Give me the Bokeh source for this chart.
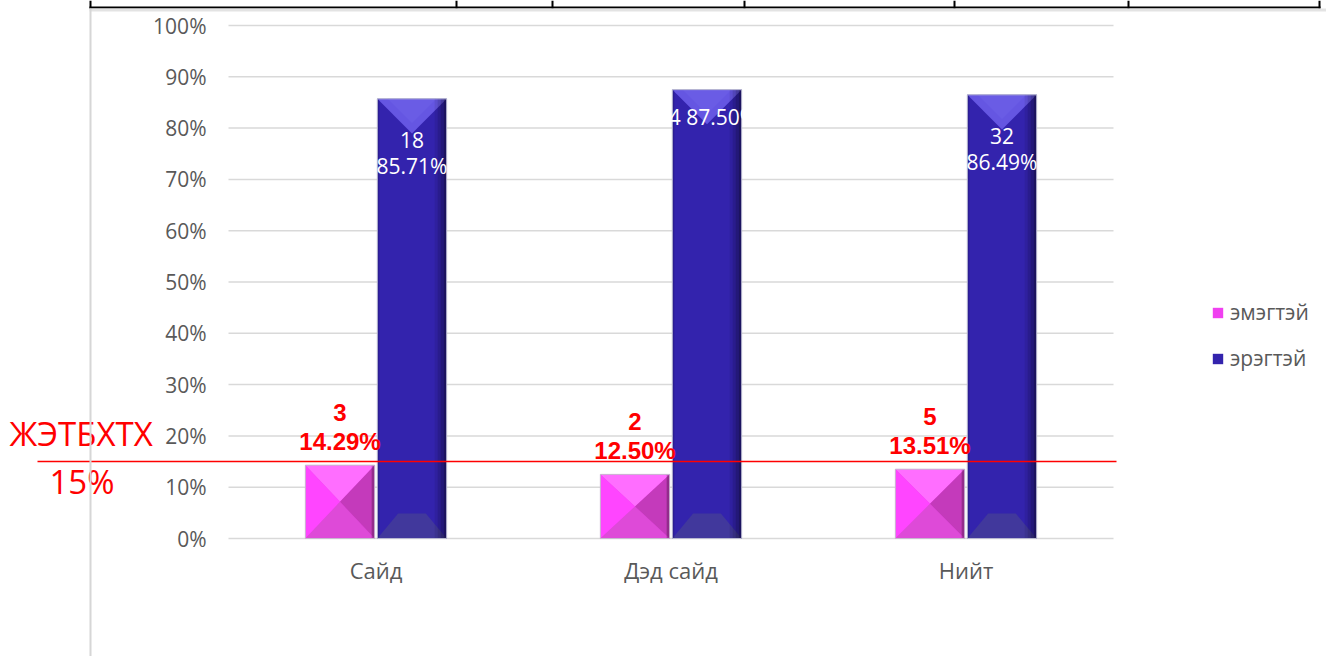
from bokeh.plotting import figure
from bokeh.models import (FixedTicker, BoxAnnotation, Label, Legend, LegendItem, Range1d)
from bokeh.core.properties import value
from bokeh.embed import file_html
from bokeh.resources import INLINE

# ---------------- data ----------------
CATEGORIES = ["Сайд", "Дэд сайд", "Нийт"]
SERIES_NAMES = ["эмэгтэй", "эрэгтэй"]
FEMALE_COUNT = [3, 2, 5]
FEMALE_PCT = [14.29, 12.50, 13.51]
MALE_COUNT = [18, 14, 32]
MALE_PCT = [85.71, 87.50, 86.49]
MALE_LABEL_TWO_LINES = [True, False, True]
Y_TICKS = [0, 10, 20, 30, 40, 50, 60, 70, 80, 90, 100]
THRESHOLD = 15
THRESHOLD_NAME = "ЖЭТБХТХ"
THRESHOLD_TEXT = "15%"

# ---------------- geometry / style ----------------
W, H = 1326, 656
FONT = "Open Sans"
GREY_TXT = "#595959"
BAR_W = 0.235
BAR_OFF = 0.122
X0_PAGE, Y0_PAGE = 228, 538     # page position of data (0, 0)
PX_X = 295.0                    # pixels per category unit
PX_Y = 5.13                     # pixels per percent

def xu(page_x):
    return (page_x - X0_PAGE) / PX_X

def yu(page_y):
    return (Y0_PAGE - page_y) / PX_Y

PINK = "#f040f0"
BLUE = "#3323ad"

p = figure(width=W, height=H, x_range=Range1d(xu(0), xu(W)), y_range=Range1d(yu(H), yu(0)),
           output_backend="svg", toolbar_location=None,
           min_border_left=0, min_border_right=0, min_border_top=0, min_border_bottom=0)
p.outline_line_color = None
p.background_fill_color = "white"
p.border_fill_color = "white"
p.xgrid.visible = False
p.ygrid.visible = False

# gridlines limited to the plot area (0 .. number of categories)
n = len(CATEGORIES)
p.segment(x0=[0] * len(Y_TICKS), x1=[n] * len(Y_TICKS), y0=Y_TICKS, y1=Y_TICKS,
          line_color="#d9d9d9", line_width=1.5)

p.yaxis.ticker = FixedTicker(ticks=Y_TICKS)
p.yaxis.major_label_overrides = {t: f"{t}%" for t in Y_TICKS}
p.xaxis.ticker = FixedTicker(ticks=[i + 0.5 for i in range(n)])
p.xaxis.major_label_overrides = {i + 0.5: c for i, c in enumerate(CATEGORIES)}
p.yaxis.fixed_location = 0
p.xaxis.fixed_location = 0
for ax in (p.xaxis, p.yaxis):
    ax.axis_line_color = None
    ax.major_tick_line_color = None
    ax.minor_tick_line_color = None
    ax.major_tick_out = 0
    ax.major_tick_in = 0
    ax.major_label_text_font = FONT
    ax.major_label_text_color = GREY_TXT
p.yaxis.major_label_text_font_size = "21px"
p.xaxis.major_label_text_font_size = "22px"
p.yaxis.major_label_standoff = 22
p.xaxis.major_label_standoff = 16

cx = [i + 0.5 for i in range(n)]
fx = [c - BAR_OFF for c in cx]
mx = [c + BAR_OFF for c in cx]
hw = BAR_W / 2

# ---------------- base bars ----------------
r_f = p.vbar(x=fx, top=FEMALE_PCT, width=BAR_W, fill_color=PINK, line_color=None)
r_m = p.vbar(x=mx, top=MALE_PCT, width=BAR_W, fill_color=BLUE, line_color=None)

# ---------------- bevel facets (computed from the bar values) ----------------
xs, ys, cols, alphas = [], [], [], []
def add(px, py, c, a=1.0):
    xs.append(px); ys.append(py); cols.append(c); alphas.append(a)

for x0, v in zip(fx, FEMALE_PCT):
    xl, xr, ym = x0 - hw, x0 + hw, v / 2
    add([xl, xr, x0], [v, v, ym], "#ff6eff")
    add([xl, xl, x0], [0, v, ym], "#ff45ff")
    add([xl, xr, x0], [0, 0, ym], "#de4ad8")
    add([xr, xr, x0], [0, v, ym], "#c43abb")
    add([xr - 3 / PX_X, xr, xr, xr - 3 / PX_X], [0, 0, v, v], "black", 0.25)

depth = (BAR_W * PX_X / 2) / PX_Y
for x0, v in zip(mx, MALE_PCT):
    xl, xr = x0 - hw, x0 + hw
    add([xl, xr, x0], [v, v, v - depth], "#6556e2")
    add([xl + 0.15 * BAR_W, xr - 0.15 * BAR_W, x0], [v, v, v - 0.7 * depth], "#6e60e8", 0.6)
    inset = 0.3 * BAR_W
    add([xl, xr, xr - inset, xl + inset], [0, 0, 25 / PX_Y, 25 / PX_Y], "#41389c")
    add([xl, xl + 2 / PX_X, xl + 2 / PX_X, xl], [0, 0, v, v], "black", 0.15)
    for k, a in enumerate([0.08, 0.18, 0.3, 0.45]):
        a0 = xr - (12 - 3 * k) / PX_X
        a1 = xr - (9 - 3 * k) / PX_X
        add([a0, a1, a1, a0], [0, 0, v, v], "black", a)

p.patches(xs=xs, ys=ys, fill_color=cols, fill_alpha=alphas, line_color=None)

# thin outlines
p.vbar(x=fx, top=FEMALE_PCT, width=BAR_W, fill_color=None, line_color="#c8b8d0", line_width=1)
p.vbar(x=mx, top=MALE_PCT, width=BAR_W, fill_color=None, line_color="#b8b8d0", line_width=1)

# ---------------- data labels ----------------
f_txt = [f"{c}\n{v:.2f}%" for c, v in zip(FEMALE_COUNT, FEMALE_PCT)]
p.text(x=fx, y=[v + 38 / PX_Y for v in FEMALE_PCT], text=f_txt,
       text_color="#ff0000", text_font=value("Liberation Sans"), text_font_style="bold",
       text_font_size="24px", text_align="center", text_baseline="middle",
       text_line_height=1.08)

m_txt, m_y = [], []
for c, v, two in zip(MALE_COUNT, MALE_PCT, MALE_LABEL_TWO_LINES):
    if two:
        m_txt.append(f"{c}\n{v:.2f}%")
        m_y.append(v - 54 / PX_Y)
    else:
        m_txt.append(f"{c} {v:.2f}%")
        m_y.append(v - 27 / PX_Y)
p.text(x=mx, y=m_y, text=m_txt, text_color="white", text_font=value(FONT),
       text_font_size="21px", text_align="center", text_baseline="middle",
       text_line_height=0.91)

# ---------------- threshold line & texts ----------------
p.add_layout(BoxAnnotation(left=xu(37), right=xu(1116), bottom=THRESHOLD - 0.75 / PX_Y,
                           top=THRESHOLD + 0.75 / PX_Y, fill_color="#ff0000",
                           fill_alpha=1, line_color=None))
p.add_layout(Label(x=xu(9), y=yu(433), text=THRESHOLD_NAME, text_color="#ff0000",
                   text_font=FONT, text_font_size="33px", text_baseline="middle",
                   text_align="left"))
p.add_layout(Label(x=xu(49), y=yu(481), text=THRESHOLD_TEXT, text_color="#ff0000",
                   text_font=FONT, text_font_size="33px", text_baseline="middle",
                   text_align="left"))

# ---------------- page decorations: table border at top, left rule ----------------
p.add_layout(BoxAnnotation(left=xu(89), right=xu(1320), bottom=yu(8), top=yu(6),
                           fill_color="black", fill_alpha=1, line_color=None))
for tx in [89, 455, 551, 743, 953, 1127, 1318]:
    p.add_layout(BoxAnnotation(left=xu(tx), right=xu(tx + 2), bottom=yu(8), top=yu(0),
                               fill_color="black", fill_alpha=1, line_color=None))
p.add_layout(BoxAnnotation(left=xu(89), right=xu(W), bottom=yu(11), top=yu(8),
                           fill_color="#e3e3e3", fill_alpha=1, line_color=None))
p.add_layout(BoxAnnotation(left=xu(89), right=xu(91), bottom=yu(H), top=yu(8),
                           fill_color="#d6d6d6", fill_alpha=1, line_color=None))

# ---------------- legend ----------------
legend = Legend(items=[LegendItem(label=SERIES_NAMES[0], renderers=[r_f]),
                       LegendItem(label=SERIES_NAMES[1], renderers=[r_m])],
                location=(1211, H - 372), orientation="vertical",
                border_line_color=None, background_fill_alpha=0,
                padding=0, spacing=18, glyph_width=13, glyph_height=13,
                label_standoff=6, label_text_font=FONT, label_text_font_size="21px",
                label_text_color=GREY_TXT)
p.add_layout(legend)

open("out.html", "w").write(file_html(p, INLINE))
